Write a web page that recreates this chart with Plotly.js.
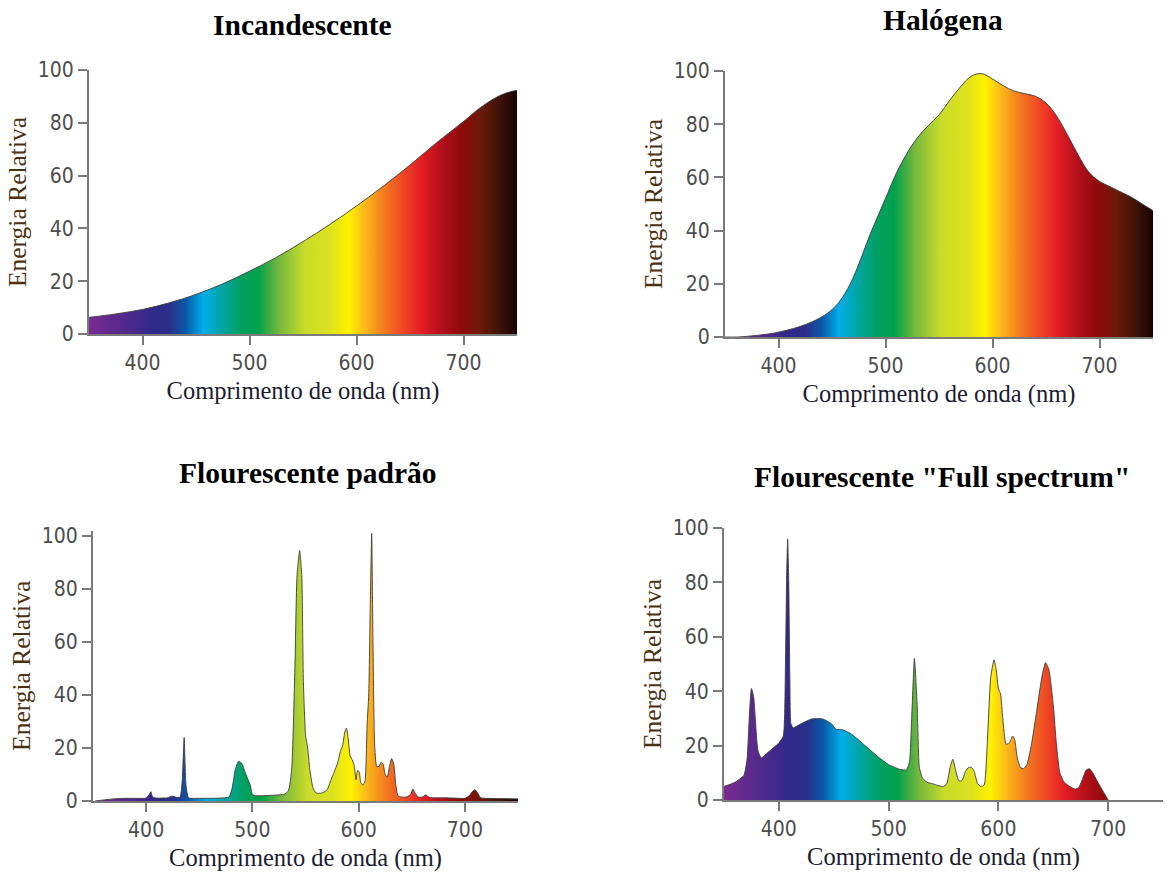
<!DOCTYPE html>
<html>
<head>
<meta charset="utf-8">
<script src="https://cdn.plot.ly/plotly-3.0.1.min.js"></script>
<style>html,body{margin:0;padding:0;background:#fff;}#chart{width:1166px;height:874px;}</style>
</head>
<body>
<div id="chart"></div>
<script>
// ---------- data ----------
const panelTitles = ['Incandescente', 'Halógena', 'Flourescente padrão', 'Flourescente "Full spectrum"'];
const xTitle = 'Comprimento de onda (nm)';
const yTitle = 'Energia Relativa';
const xTicks = [400, 500, 600, 700];
const yTicks = [0, 20, 40, 60, 80, 100];

// visible spectrum colours (nm -> colour)
const spectrumNm = [350, 380, 410, 425, 440, 457, 475, 492, 508, 528, 552, 575, 593, 606, 626, 645, 660, 680, 698, 715, 735, 750];
const spectrumColors = ['#7a2a92', '#55298c', '#30298a', '#2a2f88', '#0a58a8', '#00aee8', '#00a5a0', '#00a060', '#00a14b', '#78b83c', '#c9dc2a', '#dde21e', '#fff200', '#fbbf18', '#f47a20', '#ee4424', '#e41e26', '#b10f1a', '#8e0a0a', '#6e1a08', '#3a1208', '#1a0202'];

// Incandescente
const incNm  = [350, 375, 400, 425, 450, 475, 500, 525, 550, 575, 600, 625, 650, 675, 700, 715, 730, 740, 750];
const incVal = [6.3, 7.6, 9.3, 11.8, 15, 19, 23.8, 29, 35, 41.5, 48.5, 56, 64, 72.5, 80.5, 85.5, 89.5, 91.3, 92.3];

// Halógena
const halNm  = [350, 362, 372, 382, 392, 402, 414, 426, 438, 448, 456, 463, 470, 478, 486, 494, 502, 510, 520, 530, 540, 550, 560, 570, 580, 590, 600, 610, 620, 630, 640, 650, 660, 670, 680, 690, 700, 710, 720, 730, 740, 750];
const halVal = [0, 0, 0.3, 0.7, 1.2, 2, 3.2, 4.8, 7, 9.6, 12.8, 17, 22.5, 30.5, 39, 46.5, 54, 61.5, 69, 75, 79.5, 83.5, 89, 94, 98, 99, 97, 94.5, 92.5, 91.5, 90.5, 88, 83, 76, 68.5, 62, 58.5, 56.5, 54.5, 52.5, 50, 47.5];

// Flourescente padrão
const fluNm  = [352, 360, 370, 380, 390, 400, 403, 404.5, 406, 410, 420, 424, 426, 428, 432, 434, 435.8, 437.5, 440, 450, 460, 470, 478, 481, 484, 487, 490, 493, 496, 498, 500, 503, 510, 520, 530, 534, 537, 540, 542, 544.5, 546.5, 548, 550, 552, 554, 557, 560, 565, 570, 574, 577, 580, 583, 585, 587, 588.5, 590, 592, 594, 596, 597.5, 599, 600.5, 602, 604, 606, 608, 609.5, 611, 612.3, 613.5, 615, 617, 619, 621, 623, 625, 627, 629, 631, 633, 635, 637, 640, 645, 649, 651, 653, 656, 660, 663, 666, 670, 680, 690, 700, 704, 707, 709.5, 712, 715, 720, 735, 750];
const fluVal = [0, 0.4, 0.8, 1, 1, 1.1, 2.5, 3.5, 1.5, 1.1, 1.2, 1.8, 1.8, 1.4, 1.5, 8, 24, 6, 1.2, 1, 1, 1.1, 1.5, 5, 12, 15, 14.2, 11, 8, 6, 2.5, 2, 2, 2.2, 2.5, 4, 12, 50, 85, 94.5, 85, 45, 25, 20, 12, 5, 3, 3, 4, 8, 11, 14, 19, 21, 26, 27.5, 24, 17, 15.5, 13, 8, 11.5, 11, 7, 6, 7.5, 29, 40, 75, 101, 60, 22, 13, 13, 14.5, 14, 10, 9, 13, 16, 14, 6, 2, 1.5, 1.5, 2.5, 4.5, 3, 1.5, 1.5, 2.3, 1.5, 1.2, 1.2, 1.1, 1.0, 2, 3.5, 4.3, 3, 1.2, 1, 0.9, 0.8];

// Flourescente "Full spectrum"
const fullNm  = [350, 360, 368, 371, 373, 375, 377, 379, 381, 384, 390, 400, 404, 406, 407, 408, 409, 410, 411, 413, 420, 430, 440, 448, 452, 458, 465, 470, 480, 490, 500, 510, 516, 519, 521, 523.5, 526, 528, 531, 535, 540, 545, 550, 553, 556, 558.5, 561, 564, 567, 570, 573, 575.5, 578, 581, 584, 587, 590, 593, 596, 598, 600, 602, 604, 607, 610, 613, 615, 617, 620, 623, 626, 630, 635, 640, 643, 646, 650, 653, 656, 660, 665, 670, 673, 676, 680, 683, 686, 690, 695, 700];
const fullVal = [5, 6.5, 9, 15, 30, 41, 38, 27, 18, 15.5, 17.5, 21, 23.5, 50, 80, 96, 80, 45, 28, 26.5, 28, 29.8, 29.8, 28, 26, 25.8, 24.5, 23, 19.5, 16, 13, 11.3, 11, 14, 30, 52, 35, 12, 8, 6.5, 6, 5.3, 5, 6, 12, 15, 11, 7, 7.2, 10.5, 12, 12, 10.5, 6, 5, 5.5, 22, 45, 51.5, 48, 41, 39, 30, 20.5, 21, 23.5, 22, 16, 12, 11.5, 13, 20, 33, 46, 50.5, 48, 35, 20, 10, 6.5, 5, 4, 4.5, 7, 11, 11.5, 10, 7, 3.5, 0];

// ---------- chart ----------
const spectrumScale = spectrumNm.map((nm, i) => [(nm - 350) / 400, spectrumColors[i]]);
const series = [[incNm, incVal, 1], [halNm, halVal, 1], [fluNm, fluVal, 0.5], [fullNm, fullVal, 0.5]];
const traces = series.map((s, i) => ({
  type: 'scatter', mode: 'lines',
  x: s[0], y: s[1],
  xaxis: i === 0 ? 'x' : 'x' + (i + 1),
  yaxis: i === 0 ? 'y' : 'y' + (i + 1),
  line: {shape: 'spline', smoothing: s[2], color: 'rgba(60,60,60,0.9)', width: 1},
  fill: 'tozeroy',
  fillgradient: {type: 'horizontal', colorscale: spectrumScale, start: 350, stop: 750},
  hoverinfo: 'x+y'
}));

const W = 1166, H = 874;
// pixel boxes: [xLeft, xRight, yTop(100), yBottom(0)]
const boxes = [[89, 517, 70, 334], [725, 1153, 71, 337], [93, 518, 536, 801], [724, 1163, 528, 800]];
const yMax = [100, 100, 102, 100];
const tickFont = {family: 'DejaVu Sans Condensed, Liberation Sans Narrow, Roboto, sans-serif', size: 21, color: '#4d4d4d'};
const serif = 'Liberation Serif, Times New Roman, serif';

const layout = {
  width: W, height: H,
  margin: {l: 0, r: 0, t: 0, b: 0},
  paper_bgcolor: '#ffffff', plot_bgcolor: 'rgba(0,0,0,0)',
  showlegend: false,
  annotations: []
};
boxes.forEach((b, i) => {
  const sfx = i === 0 ? '' : String(i + 1);
  const pxPer = (b[3] - b[2]) / 100;
  const yTopPx = b[3] - yMax[i] * pxPer;
  layout['xaxis' + sfx] = {
    domain: [b[0] / W, b[1] / W], anchor: 'y' + sfx,
    range: [350, 750], tickvals: xTicks, ticks: 'outside', ticklen: 9, tickwidth: 2, tickcolor: '#7a7a7a',
    showline: true, linecolor: '#7a7a7a', linewidth: 2, showgrid: false, zeroline: false,
    tickfont: tickFont, fixedrange: true,
    title: {text: xTitle, font: {family: serif, size: 24.5, color: '#1c1c30'}, standoff: 8}
  };
  layout['yaxis' + sfx] = {
    domain: [1 - b[3] / H, 1 - yTopPx / H], anchor: 'x' + sfx,
    range: [0, yMax[i]], tickvals: yTicks, ticks: 'outside', ticklen: 9, tickwidth: 2, tickcolor: '#7a7a7a',
    showline: true, linecolor: '#7a7a7a', linewidth: 2, showgrid: false, zeroline: false,
    tickfont: tickFont, fixedrange: true,
    title: {text: yTitle, font: {family: serif, size: 25.5, color: '#4a3212'}, standoff: 4}
  };
});
const titlePos = [[302, 25], [943, 20], [308, 473], [942, 477]];
panelTitles.forEach((t, i) => {
  layout.annotations.push({
    text: t, xref: 'paper', yref: 'paper', x: titlePos[i][0] / W, y: 1 - titlePos[i][1] / H,
    xanchor: 'center', yanchor: 'middle', showarrow: false,
    font: {family: serif, size: 29.5, color: '#000', weight: 'bold'}
  });
});

Plotly.newPlot('chart', traces, layout, {displayModeBar: false, staticPlot: true});
</script>
</body>
</html>
